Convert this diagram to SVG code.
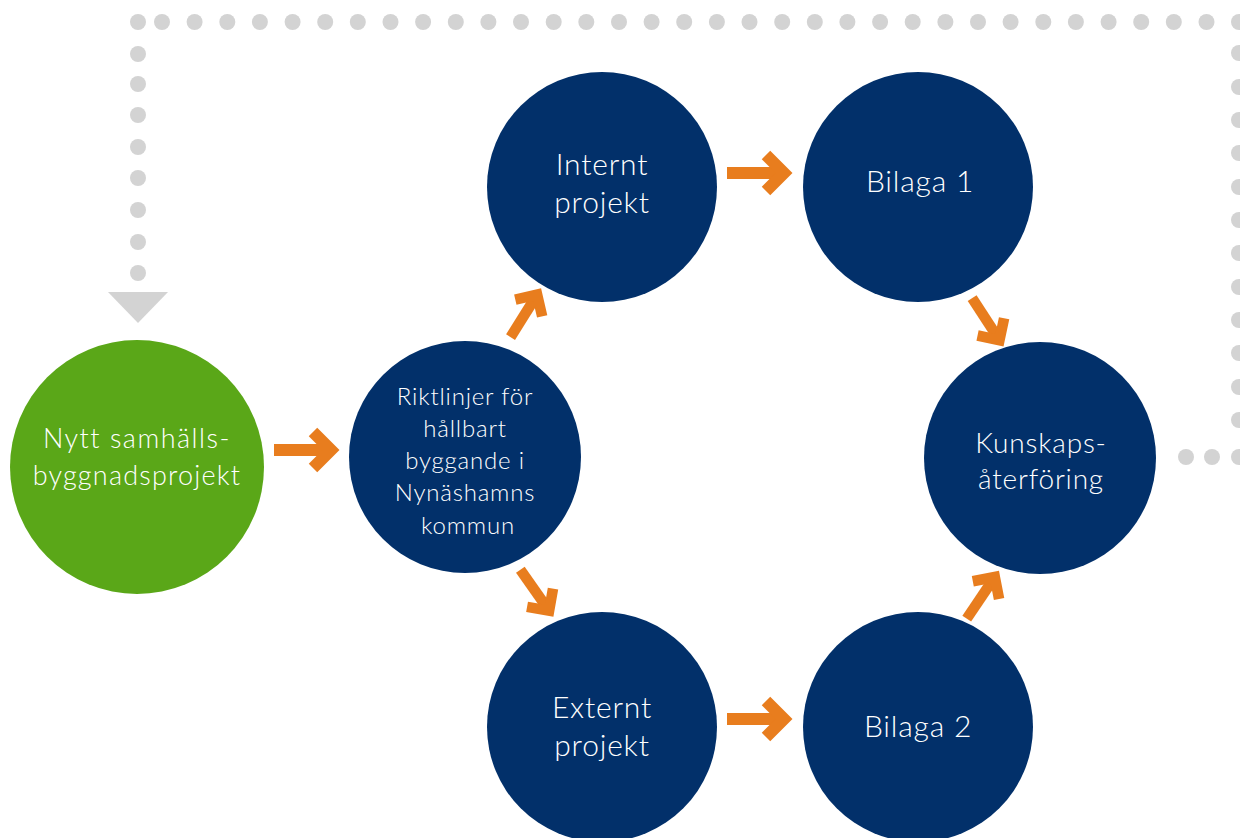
<svg xmlns="http://www.w3.org/2000/svg" width="1240" height="838" viewBox="0 0 1240 838">
<defs>
<style>
.navy{fill:#02306a}
.green{fill:#5aa718}
.dot{fill:#d3d3d3}
.t{fill:#ffffff;font-family:"Lato","Open Sans",sans-serif;font-weight:300;text-anchor:middle;letter-spacing:0.8px}
.arr{fill:none;stroke:#e87d1e;stroke-width:12;stroke-linejoin:miter;stroke-linecap:butt}
</style>
<g id="arrowShape">
<path class="arr" d="M-31,0 H24"/>
<path class="arr" d="M8,-18 L26,0 L8,18"/>
</g>
</defs>
<rect width="1240" height="838" fill="#ffffff"/>
<g id="feedback-loop">
<circle class="dot" cx="138" cy="22" r="8"/>
<circle class="dot" cx="162" cy="22" r="8"/><circle class="dot" cx="194.6" cy="22" r="8"/><circle class="dot" cx="227.3" cy="22" r="8"/><circle class="dot" cx="259.9" cy="22" r="8"/><circle class="dot" cx="292.6" cy="22" r="8"/><circle class="dot" cx="325.2" cy="22" r="8"/><circle class="dot" cx="357.8" cy="22" r="8"/><circle class="dot" cx="390.5" cy="22" r="8"/><circle class="dot" cx="423.1" cy="22" r="8"/><circle class="dot" cx="455.8" cy="22" r="8"/><circle class="dot" cx="488.4" cy="22" r="8"/><circle class="dot" cx="521" cy="22" r="8"/><circle class="dot" cx="553.7" cy="22" r="8"/><circle class="dot" cx="586.3" cy="22" r="8"/><circle class="dot" cx="619" cy="22" r="8"/><circle class="dot" cx="651.6" cy="22" r="8"/><circle class="dot" cx="684.2" cy="22" r="8"/><circle class="dot" cx="716.9" cy="22" r="8"/><circle class="dot" cx="749.5" cy="22" r="8"/><circle class="dot" cx="782.2" cy="22" r="8"/><circle class="dot" cx="814.8" cy="22" r="8"/><circle class="dot" cx="847.4" cy="22" r="8"/><circle class="dot" cx="880.1" cy="22" r="8"/><circle class="dot" cx="912.7" cy="22" r="8"/><circle class="dot" cx="945.4" cy="22" r="8"/><circle class="dot" cx="978" cy="22" r="8"/><circle class="dot" cx="1010.6" cy="22" r="8"/><circle class="dot" cx="1043.3" cy="22" r="8"/><circle class="dot" cx="1075.9" cy="22" r="8"/><circle class="dot" cx="1108.6" cy="22" r="8"/><circle class="dot" cx="1141.2" cy="22" r="8"/><circle class="dot" cx="1173.8" cy="22" r="8"/><circle class="dot" cx="1206.5" cy="22" r="8"/><circle class="dot" cx="1239" cy="22" r="8"/>
<circle class="dot" cx="1239" cy="53" r="8"/><circle class="dot" cx="1239" cy="87" r="8"/><circle class="dot" cx="1239" cy="120" r="8"/><circle class="dot" cx="1239" cy="153" r="8"/><circle class="dot" cx="1239" cy="187" r="8"/><circle class="dot" cx="1239" cy="220" r="8"/><circle class="dot" cx="1239" cy="253" r="8"/><circle class="dot" cx="1239" cy="287" r="8"/><circle class="dot" cx="1239" cy="320" r="8"/><circle class="dot" cx="1239" cy="353" r="8"/><circle class="dot" cx="1239" cy="387" r="8"/><circle class="dot" cx="1239" cy="420" r="8"/>
<circle class="dot" cx="1186" cy="457" r="8"/><circle class="dot" cx="1212" cy="457" r="8"/><circle class="dot" cx="1239" cy="457" r="8"/>
<circle class="dot" cx="138" cy="54" r="8"/><circle class="dot" cx="138" cy="84" r="8"/><circle class="dot" cx="138" cy="115" r="8"/><circle class="dot" cx="138" cy="147" r="8"/><circle class="dot" cx="138" cy="178" r="8"/><circle class="dot" cx="138" cy="210" r="8"/><circle class="dot" cx="138" cy="242" r="8"/><circle class="dot" cx="138" cy="273" r="8"/>
<polygon class="dot" points="108,292 168,292 138,323"/>
</g>
<g id="connectors">
<use href="#arrowShape" transform="translate(305,450)"/>
<use href="#arrowShape" transform="translate(758,173)"/>
<use href="#arrowShape" transform="translate(758,719)"/>
<use href="#arrowShape" transform="translate(525,314) rotate(-58) scale(0.88)"/>
<use href="#arrowShape" transform="translate(536,592) rotate(55) scale(0.88)"/>
<use href="#arrowShape" transform="translate(987,321) rotate(57) scale(0.88)"/>
<use href="#arrowShape" transform="translate(982,596) rotate(-56) scale(0.88)"/>
</g>
<g id="node-nytt">
<circle class="green" cx="137" cy="467" r="127"/>
<text class="t" x="137" y="448" font-size="27" style="letter-spacing:1.5px">Nytt samhälls-</text>
<text class="t" x="137" y="485" font-size="27" style="letter-spacing:1.2px">byggnadsprojekt</text>
</g>
<g id="node-riktlinjer">
<circle class="navy" cx="465" cy="457" r="116"/>
<text class="t" x="465" y="405" font-size="24">Riktlinjer för</text>
<text class="t" x="465" y="437" font-size="24">hållbart</text>
<text class="t" x="465" y="469" font-size="24">byggande i</text>
<text class="t" x="465" y="501" font-size="24">Nynäshamns</text>
<text class="t" x="468" y="534" font-size="24">kommun</text>
</g>
<g id="node-internt">
<circle class="navy" cx="602" cy="187" r="115"/>
<text class="t" x="602" y="175" font-size="30">Internt</text>
<text class="t" x="602" y="213" font-size="30">projekt</text>
</g>
<g id="node-bilaga1">
<circle class="navy" cx="918" cy="187" r="115"/>
<text class="t" x="920" y="192" font-size="30">Bilaga 1</text>
</g>
<g id="node-kunskaps">
<circle class="navy" cx="1040" cy="458" r="116"/>
<text class="t" x="1041" y="453" font-size="28">Kunskaps-</text>
<text class="t" x="1041" y="489" font-size="28">återföring</text>
</g>
<g id="node-externt">
<circle class="navy" cx="602" cy="727" r="115"/>
<text class="t" x="602" y="718" font-size="30">Externt</text>
<text class="t" x="602" y="756" font-size="30">projekt</text>
</g>
<g id="node-bilaga2">
<circle class="navy" cx="918" cy="727" r="115"/>
<text class="t" x="918" y="737" font-size="30">Bilaga 2</text>
</g>
</svg>
